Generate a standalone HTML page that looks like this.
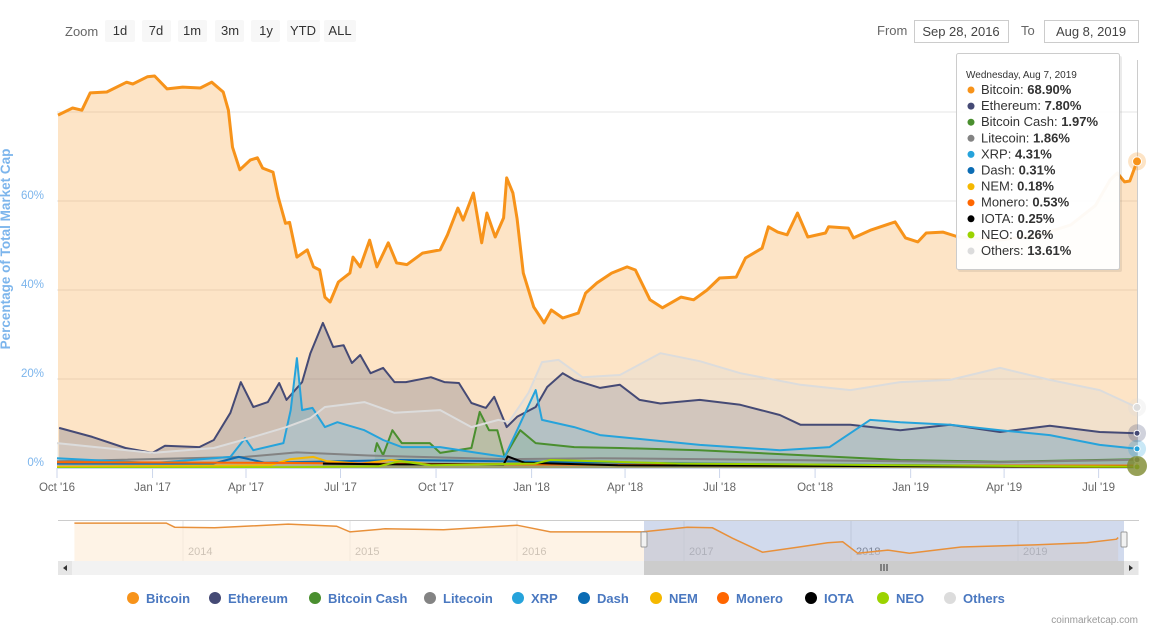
<!DOCTYPE html>
<html><head><meta charset="utf-8">
<style>
body{margin:0;background:#fff;font-family:"Liberation Sans",sans-serif;}
svg{display:block}
</style></head>
<body>
<svg id="chart" width="1158" height="644" viewBox="0 0 1158 644" xmlns="http://www.w3.org/2000/svg" font-family="Liberation Sans, sans-serif">
  <g>
    <text x="65" y="36" font-size="13" fill="#666">Zoom</text>
    <g><rect x="105" y="20" width="30" height="22" rx="2" fill="#f7f7f7"/><text x="120" y="35" font-size="13" fill="#333" text-anchor="middle">1d</text></g>
    <g><rect x="142" y="20" width="29" height="22" rx="2" fill="#f7f7f7"/><text x="156" y="35" font-size="13" fill="#333" text-anchor="middle">7d</text></g>
    <g><rect x="178" y="20" width="29" height="22" rx="2" fill="#f7f7f7"/><text x="192" y="35" font-size="13" fill="#333" text-anchor="middle">1m</text></g>
    <g><rect x="215" y="20" width="29" height="22" rx="2" fill="#f7f7f7"/><text x="230" y="35" font-size="13" fill="#333" text-anchor="middle">3m</text></g>
    <g><rect x="251" y="20" width="29" height="22" rx="2" fill="#f7f7f7"/><text x="266" y="35" font-size="13" fill="#333" text-anchor="middle">1y</text></g>
    <g><rect x="287" y="20" width="33" height="22" rx="2" fill="#f7f7f7"/><text x="303" y="35" font-size="13" fill="#333" text-anchor="middle">YTD</text></g>
    <g><rect x="324" y="20" width="32" height="22" rx="2" fill="#f7f7f7"/><text x="340" y="35" font-size="13" fill="#333" text-anchor="middle">ALL</text></g>
  </g>
  <g>
    <text x="877" y="35" font-size="13" fill="#666">From</text>
    <g><rect x="914.5" y="20.5" width="94" height="22" fill="#fff" stroke="#ccc"/><text x="961" y="36" font-size="13" fill="#444" text-anchor="middle">Sep 28, 2016</text></g>
    <text x="1021" y="35" font-size="13" fill="#666">To</text>
    <g><rect x="1044.5" y="20.5" width="94" height="22" fill="#fff" stroke="#ccc"/><text x="1091" y="36" font-size="13" fill="#444" text-anchor="middle">Aug 8, 2019</text></g>
  </g>
  <g id="grid"></g>
  <g id="series"></g>
  <g id="axes"></g>
  <text transform="translate(10,249) rotate(-90)" font-size="13.5" font-weight="bold" fill="#7cb5ec" text-anchor="middle">Percentage of Total Market Cap</text>
  <g id="markers"></g>
  <g id="nav"></g>
  <g id="legend"></g>
  <text x="1138" y="623" font-size="10" fill="#999" text-anchor="end">coinmarketcap.com</text>
  <g id="tooltip"></g>
</svg>
<script>
// days since 2016-10-01, values in percent
const btcDays=[1,15,24,32,48,67,73,87,94,106,121,138,149,160,165,169,176,186,193,198,208,213,220,224,231,241,247,253,258,263,271,282,285,292,301,308,319,327,337,352,369,376,386,391,401,409,414,422,430,433,439,443,449,459,469,476,487,502,509,520,534,549,557,571,583,601,613,626,638,654,663,679,685,694,703,713,723,740,743,762,767,784,807,817,829,837,853,868,908,947,976,1000,1014,1021,1028,1033,1040];
const btcVals=[79.3,80.9,80.4,84.3,84.5,86.7,86.3,87.9,88.1,85.2,85.6,85.4,86.7,84.5,80.4,72.1,67,69.2,69.7,67.4,66.5,60.9,55,55.2,47.4,49,45.2,44.5,38.4,37.3,41.8,43.8,47.4,45.2,51.2,45.2,50.6,46.1,45.7,48.3,49,52.4,58.4,55.7,61.8,50.6,57.3,51.9,56.2,65.2,61.8,56,43.8,36.2,32.6,35.5,33.7,34.8,39.3,41.6,43.8,45.2,44.5,37.8,36,38.4,37.8,40,42.7,42.9,47.2,49.4,54.2,53,52.4,57.3,51.9,52.8,54.2,53.9,51.7,53.5,55.3,51.7,50.8,52.8,53,51.9,51.2,52.5,54.6,59,64.7,66.3,64.3,64.5,68.9];
const ethDays=[2,34,66,92,104,137,151,167,177,189,203,214,221,236,244,256,266,276,284,292,302,314,325,336,360,373,387,399,413,421,433,443,461,472,487,498,523,542,561,581,619,658,696,716,764,812,860,908,956,1004,1040];
const ethVals=[9.0,7.0,4.5,3.4,5,4.7,6.3,12.4,19.3,13.7,14.8,19.1,15.3,19.3,25.8,32.6,27.2,27.6,23.6,25.4,21.3,22.5,19.3,19.3,20.4,19.3,19.1,14.6,13.5,16,9.2,11.5,13.7,18.2,21.3,19.8,18,18.7,15.3,14.5,15.3,14.2,11.9,9.7,9.7,8.5,9.7,8.1,9.5,8.1,7.8];
const xrpDays=[0,92,167,181,189,218,225,231,236,246,258,270,296,314,332,369,405,431,443,461,467,498,523,571,619,696,744,783,812,860,908,956,1004,1040];
const xrpVals=[2.2,1.1,2.5,6.7,4,5.6,13,24.7,13,13.5,9.2,10.3,8.5,6.3,4.7,4.7,3.4,2.5,8.5,17.5,10.8,9.2,7.4,6.3,5.2,4,4.7,10.8,10.3,9.7,8.5,7.4,5.2,4.31];
const othDays=[0,92,151,185,221,244,258,296,325,369,399,425,435,454,467,483,506,542,581,619,658,716,764,812,860,908,956,1004,1040];
const othVals=[5.6,3.4,4.5,6.7,9.2,11.2,13.7,14.8,12.4,13,9.2,10.8,10.3,16.9,23.8,24.3,20.4,20.9,25.8,24,21.3,18.7,17.5,19.3,19.8,22.5,19.8,17.5,13.61];
const bchDays=[306,308,314,323,332,359,369,399,407,416,424,431,446,461,498,542,619,716,812,908,1040];
const bchVals=[3.6,5.6,2.9,8.5,5.6,5.6,3.4,4.5,12.6,8.5,8.5,2.5,8.5,5.6,4.7,4.5,4,2.9,1.8,1.4,1.97];
const ltcDays=[0,181,231,300,431,523,700,908,1040];
const ltcVals=[1.5,2.5,3.5,2.8,2,2.2,1.8,1.3,1.86];
const dashDays=[0,150,175,200,330,431,700,1040];
const dashVals=[1.0,1.0,2.5,1.2,1.8,1.5,0.8,0.31];
const nemDays=[0,205,225,247,260,292,322,360,445,540,1040];
const nemVals=[0.3,0.6,2,2.5,1.5,1,1.8,0.8,1,0.6,0.18];
const xmrDays=[0,180,430,700,1040];
const xmrVals=[1.3,1.2,0.8,0.6,0.53];
const iotaDays=[256,330,430,434,450,540,1040];
const iotaVals=[1,0.8,0.8,2.6,1.2,0.6,0.25];
const neoDays=[0,230,310,330,360,460,475,600,1040];
const neoVals=[0,0.2,0.4,1.5,0.6,1,1.8,1,0.26];
const seriesNames=["Bitcoin","Ethereum","Bitcoin Cash","Litecoin","XRP","Dash","NEM","Monero","IOTA","NEO","Others"];
const seriesColors=["#f7931a","#454a75","#4a8f2f","#838383","#26a3db","#0b6cb4","#f5b800","#ff6600","#000000","#9bd300","#dcdcdc"];
const tooltipVals=["68.90%","7.80%","1.97%","1.86%","4.31%","0.31%","0.18%","0.53%","0.25%","0.26%","13.61%"];
const yTicks=[0,20,40,60,80];
const xTickDays=[0,92,182,273,365,457,547,638,730,822,912,1003];
const xTickLabels=["Oct '16","Jan '17","Apr '17","Jul '17","Oct '17","Jan '18","Apr '18","Jul '18","Oct '18","Jan '19","Apr '19","Jul '19"];
const navYears=[2013.35,2013.9,2013.95,2014.19,2014.63,2014.92,2015.0,2015.21,2015.56,2016.0,2016.2,2016.75,2017.02,2017.17,2017.29,2017.47,2017.69,2017.86,2017.95,2018.04,2018.22,2018.35,2018.66,2019.1,2019.41,2019.59,2019.6];
const navVals=[96,96,88,87,94,90,79,85,83,92,79,79,88,87,67,40,50,58,60,38,44,38,50,54,58,65,68];
const navTickYears=[2014,2015,2016,2017,2018,2019];

const NS="http://www.w3.org/2000/svg";
function mk(tag,attrs,parent){const e=document.createElementNS(NS,tag);for(const k in attrs)e.setAttribute(k,attrs[k]);parent.appendChild(e);return e;}
const xS=d=>57+d*1.0385;
const yS=v=>468-v*4.45;
const navX=y=>183+(y-2014)*167;
const navY=v=>521+(100-v)*0.52;

const grid=document.getElementById('grid');
yTicks.forEach(t=>{
  const l=mk('line',{x1:57,x2:1138,y1:yS(t),y2:yS(t),stroke:'#e6e6e6','stroke-width':1},grid);
  
  
  if(t<80){const tx=mk('text',{x:44,y:yS(t)-2,'font-size':11.5,fill:'#7cb5ec','text-anchor':'end'},grid);tx.textContent=t+'%';
  
  }
});

const data=[[btcDays,btcVals],[ethDays,ethVals],[bchDays,bchVals],[ltcDays,ltcVals],[xrpDays,xrpVals],[dashDays,dashVals],[nemDays,nemVals],[xmrDays,xmrVals],[iotaDays,iotaVals],[neoDays,neoVals],[othDays,othVals]];
const sg=document.getElementById('series');
const fillOp=[0.25,0.25,0.25,0.2,0.25,0.2,0.2,0.2,0.2,0.2,0.3];
data.forEach((s,i)=>{
  const [ds,vs]=s;
  let line='';ds.forEach((d,j)=>{line+=(j?'L':'M')+xS(d).toFixed(1)+','+yS(vs[j]).toFixed(1);});
  const area=line+'L'+xS(ds[ds.length-1]).toFixed(1)+',468L'+xS(ds[0]).toFixed(1)+',468Z';
  const a=mk('path',{d:area,fill:seriesColors[i],'fill-opacity':fillOp[i],stroke:'none'},sg);
  
  
});
data.forEach((s,i)=>{
  const [ds,vs]=s;
  let line='';ds.forEach((d,j)=>{line+=(j?'L':'M')+xS(d).toFixed(1)+','+yS(vs[j]).toFixed(1);});
  const p=mk('path',{d:line,fill:'none',stroke:seriesColors[i],'stroke-width':i==0?3:2,'stroke-linejoin':'round'},sg);
  
  
});

const ax=document.getElementById('axes');
mk('line',{x1:57,x2:1138,y1:468.5,y2:468.5,stroke:'#ccd6eb'},ax);
mk('line',{x1:1137.5,x2:1137.5,y1:60,y2:468,stroke:'#cccccc'},ax);
xTickDays.forEach((d,i)=>{
  const x=xS(d);
  mk('line',{x1:x,x2:x,y1:468,y2:478,stroke:'#ccd6eb'},ax);
  const t=mk('text',{x:x,y:491,'font-size':11.5,fill:'#666','text-anchor':'middle'},ax);
  t.textContent=xTickLabels[i];
  
  
});

const mg=document.getElementById('markers');
data.forEach((s,i)=>{
  const [ds,vs]=s;const x=xS(ds[ds.length-1]),y=yS(vs[vs.length-1]);
  if(i==0||i==10||i==1||i==4){mk('circle',{cx:x,cy:y,r:9,fill:seriesColors[i],'fill-opacity':0.25},mg);}
  const c=mk('circle',{cx:x,cy:y,r:i==0?4.5:(i==10?4:3),fill:i==10?'#ddd':seriesColors[i],stroke:'#fff','stroke-width':1},mg);
  
  
});
mk('circle',{cx:1137,cy:466,r:10,fill:'#7d8a2e','fill-opacity':0.8},mg);

// navigator
const nv=document.getElementById('nav');
mk('rect',{x:58,y:520,width:1081,height:41,fill:'#fff'},nv);
mk('line',{x1:58,x2:1139,y1:520.5,y2:520.5,stroke:'#cccccc'},nv);
navTickYears.forEach(y=>{const x=navX(y);mk('line',{x1:x,x2:x,y1:521,y2:561,stroke:'#e6e6e6'},nv);
  const t=mk('text',{x:x+5,y:555,'font-size':11,fill:'#888'},nv);t.textContent=String(y);
  
  });
let nl='';navYears.forEach((y,j)=>{nl+=(j?'L':'M')+navX(y).toFixed(1)+','+navY(navVals[j]).toFixed(1);});
mk('path',{d:nl+'L'+navX(navYears[navYears.length-1])+',561L'+navX(navYears[0])+',561Z',fill:'#fdebd6','fill-opacity':0.6},nv);
mk('rect',{x:644,y:521,width:480,height:40,fill:'#6685c2','fill-opacity':0.3},nv);
mk('path',{d:nl,fill:'none',stroke:'#e8903a','stroke-width':1.5},nv);
mk('rect',{x:641,y:532,width:6,height:15,rx:1,fill:'#f2f2f2',stroke:'#999'},nv);
mk('rect',{x:1121,y:532,width:6,height:15,rx:1,fill:'#f2f2f2',stroke:'#999'},nv);
mk('rect',{x:58,y:561,width:1081,height:14,fill:'#f2f2f2'},nv);
mk('rect',{x:644,y:561,width:480,height:14,fill:'#cccccc'},nv);
mk('rect',{x:58,y:561,width:14,height:14,fill:'#e6e6e6'},nv);
mk('rect',{x:1124,y:561,width:14,height:14,fill:'#e6e6e6'},nv);
mk('path',{d:'M67,565L63,568L67,571Z',fill:'#333'},nv);
mk('path',{d:'M1129,565L1133,568L1129,571Z',fill:'#333'},nv);
mk('path',{d:'M881,564V571M884,564V571M887,564V571',stroke:'#333','stroke-width':1},nv);

// legend
const lg=document.getElementById('legend');
const lgX=[133,215,315,430,518,584,656,723,811,883,950];
seriesNames.forEach((n,i)=>{
  const g=mk('g',{},lg);
  
  
  mk('circle',{cx:lgX[i],cy:598,r:6,fill:seriesColors[i]},g);
  const t=mk('text',{x:lgX[i]+13,y:603,'font-size':13,'font-weight':'bold',fill:'#4a78c0'},g);t.textContent=n;
});

// tooltip
const tt=document.getElementById('tooltip');
mk('rect',{x:958,y:56,width:164,height:216,fill:'#000','fill-opacity':0.08,rx:2},tt);
mk('rect',{x:956.5,y:53.5,width:163,height:216,fill:'#fff','fill-opacity':0.96,stroke:'#cccccc',rx:2},tt);
const th=mk('text',{x:966,y:78,'font-size':10,fill:'#333'},tt);th.textContent='Wednesday, Aug 7, 2019';
seriesNames.forEach((n,i)=>{
  const y=94+i*16.1;
  mk('circle',{cx:971,cy:y-4,r:3.5,fill:seriesColors[i]},tt);
  const t=mk('text',{x:981,y:y,'font-size':13,fill:'#333'},tt);
  
  
  const a=document.createElementNS(NS,'tspan');a.textContent=n+': ';t.appendChild(a);
  const b=document.createElementNS(NS,'tspan');b.setAttribute('font-weight','bold');b.textContent=tooltipVals[i];t.appendChild(b);
});
</script>
</body></html>
